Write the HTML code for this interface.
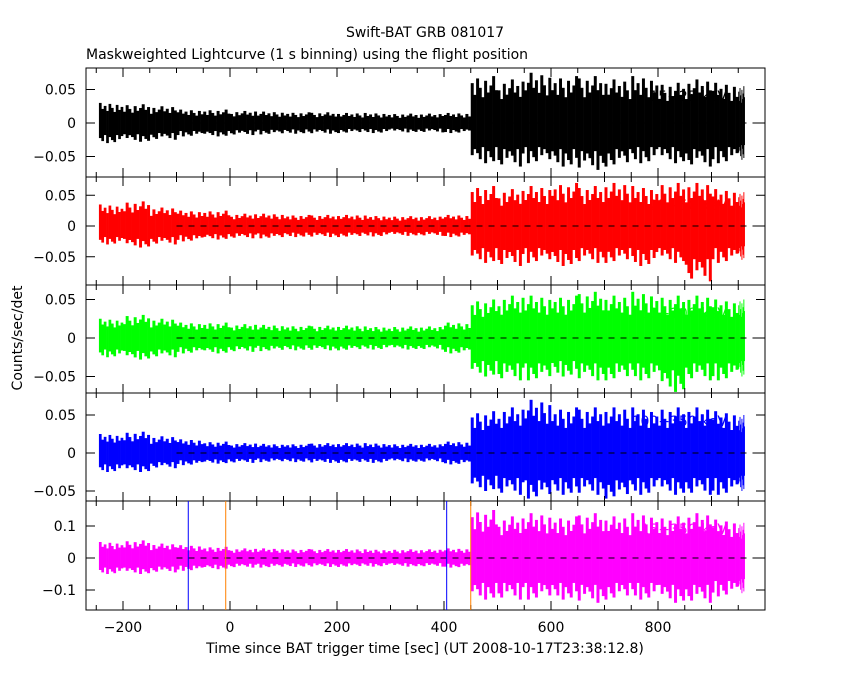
<!DOCTYPE html>
<html><head><meta charset="utf-8"><style>
body{margin:0;background:#fff}
svg{font-family:"DejaVu Sans","Liberation Sans",sans-serif}
</style></head><body>
<svg id="c" width="850" height="680" xmlns="http://www.w3.org/2000/svg">
<rect width="850" height="680" fill="#fff"/>
<text x="425" y="37" text-anchor="middle" font-size="14">Swift-BAT GRB 081017</text>
<text x="86" y="59" font-size="14">Maskweighted Lightcurve (1 s binning) using the flight position</text>
<text x="22" y="338" font-size="14" text-anchor="middle" transform="rotate(-90 22 338)">Counts/sec/det</text>
<text x="425" y="653" font-size="14" text-anchor="middle">Time since BAT trigger time [sec] (UT 2008-10-17T23:38:12.8)</text>
<g id="g"></g>
</svg>
<script>
const bandLabels=["15\u221225 keV","25\u221250 keV","50\u2212100 keV","100\u2212350 keV","15\u2212350 keV"];
const colors=["#000000","#ff0000","#00ff00","#0000ff","#ff00ff"];
const binStarts=[-245,-200,-150,-100,-50,0,50,100,150,200,250,300,350,400,450,500,550,600,650,700,750,800,850,900,950];
const hi1=[0.03,0.028,0.025,0.02,0.02,0.018,0.017,0.016,0.016,0.015,0.015,0.014,0.014,0.015,0.07,0.065,0.075,0.07,0.07,0.065,0.07,0.06,0.065,0.06,0.055];
const lo1=[-0.03,-0.028,-0.025,-0.02,-0.02,-0.018,-0.017,-0.016,-0.016,-0.015,-0.015,-0.014,-0.014,-0.015,-0.06,-0.065,-0.06,-0.065,-0.07,-0.065,-0.06,-0.06,-0.065,-0.06,-0.055];
const hi2=[0.035,0.04,0.03,0.025,0.025,0.02,0.02,0.018,0.018,0.018,0.017,0.016,0.016,0.018,0.065,0.06,0.065,0.07,0.065,0.07,0.065,0.07,0.07,0.06,0.055];
const lo2=[-0.03,-0.035,-0.03,-0.025,-0.022,-0.02,-0.02,-0.018,-0.018,-0.018,-0.017,-0.016,-0.016,-0.018,-0.06,-0.065,-0.06,-0.065,-0.06,-0.06,-0.065,-0.06,-0.09,-0.06,-0.055];
const hi3=[0.025,0.03,0.025,0.02,0.02,0.018,0.017,0.016,0.016,0.016,0.015,0.015,0.015,0.02,0.05,0.055,0.055,0.055,0.06,0.055,0.06,0.055,0.055,0.05,0.05];
const lo3=[-0.025,-0.028,-0.025,-0.02,-0.02,-0.018,-0.017,-0.016,-0.016,-0.016,-0.015,-0.015,-0.015,-0.02,-0.05,-0.055,-0.055,-0.05,-0.055,-0.055,-0.055,-0.07,-0.055,-0.055,-0.05];
const hi4=[0.025,0.028,0.022,0.018,0.015,0.013,0.012,0.012,0.013,0.013,0.013,0.012,0.012,0.015,0.055,0.06,0.07,0.06,0.06,0.06,0.06,0.06,0.06,0.055,0.05];
const lo4=[-0.025,-0.025,-0.02,-0.016,-0.014,-0.013,-0.012,-0.012,-0.013,-0.013,-0.013,-0.012,-0.012,-0.015,-0.05,-0.055,-0.06,-0.055,-0.055,-0.06,-0.055,-0.055,-0.055,-0.055,-0.05];
const hi5=[0.05,0.055,0.045,0.04,0.035,0.03,0.03,0.028,0.028,0.028,0.027,0.027,0.027,0.03,0.15,0.13,0.14,0.13,0.14,0.13,0.14,0.13,0.14,0.12,0.11];
const lo5=[-0.05,-0.05,-0.045,-0.04,-0.035,-0.03,-0.03,-0.028,-0.028,-0.028,-0.027,-0.027,-0.027,-0.03,-0.13,-0.13,-0.13,-0.13,-0.14,-0.13,-0.13,-0.14,-0.14,-0.12,-0.11];
const highs=[hi1,hi2,hi3,hi4,hi5], lows=[lo1,lo2,lo3,lo4,lo5];
const yTicks=[[0.05,0,-0.05],[0.05,0,-0.05],[0.05,0,-0.05],[0.05,0,-0.05],[0.1,0,-0.1]];
const yTickLabels=[["0.05","0","\u22120.05"],["0.05","0","\u22120.05"],["0.05","0","\u22120.05"],["0.05","0","\u22120.05"],["0.1","0","\u22120.1"]];
const xTicks=[-200,0,200,400,600,800];
const xTickLabels=["\u2212200","0","200","400","600","800"];
const markerTimes=[-78,-8,405,450];
const markerColors=["#0000ff","#ff8000","#0000ff","#ff8000"];
const tEnd=962;

const L=86,R=765,X0=230,PX=0.535;
const panels=[{t:68,b:177,z:123,k:670},{t:177,b:285,z:226,k:615},{t:285,b:393,z:338,k:770},{t:393,b:501,z:453,k:760},{t:501,b:610,z:558,k:320}];
const shapeHi=[1,0.7,0.85,0.6,0.95,0.75,0.55,0.9,0.65,0.8];
const shapeLo=[0.75,0.9,0.6,1,0.7,0.85,0.95,0.6,0.8,0.65];
const NS="http://www.w3.org/2000/svg";
const g=document.getElementById('g');
function xs(t){return X0+t*PX;}
function mk(tag,a,p){const e=document.createElementNS(NS,tag);for(const k in a)e.setAttribute(k,a[k]);(p||g).appendChild(e);return e;}
panels.forEach((p,i)=>{
  const ys=v=>Math.max(p.t+1,Math.min(p.b-1,p.z-v*p.k));
  const grp=mk('g',{});
  
  
  for(let j=0;j<binStarts.length;j++){
    const t0=binStarts[j], t1=j+1<binStarts.length?binStarts[j+1]:tEnd;
    const sub=10;
    for(let s=0;s<sub;s++){
      const ta=t0+(t1-t0)*s/sub, tb=t0+(t1-t0)*(s+1)/sub;
      const fh=shapeHi[(s+j*3)%10], fl=shapeLo[(s+j*7)%10];
      const r=mk('rect',{x:xs(ta),y:ys(highs[i][j]*fh),width:xs(tb)-xs(ta)+0.3,height:ys(lows[i][j]*fl)-ys(highs[i][j]*fh),fill:colors[i]},grp);
      
      
    }
  }
  const zl=mk('line',{x1:xs(-100),x2:R,y1:p.z,y2:p.z,stroke:'#000','stroke-width':1,'stroke-dasharray':'6,6'},grp);
  
  
  const fr=mk('rect',{x:L,y:p.t,width:R-L,height:p.b-p.t,fill:'none',stroke:'#000','stroke-width':1},grp);
  
  
  for(let t=-250;t<=1000;t+=50){const x=xs(t);if(x<L||x>R)continue;const big=t%200==0;
    mk('line',{x1:x,x2:x,y1:p.b,y2:p.b-(big?9:5),stroke:'#000'},grp);mk('line',{x1:x,x2:x,y1:p.t,y2:p.t+(big?9:5),stroke:'#000'},grp);}
  yTicks[i].forEach((v,j)=>{
    const y=p.z-v*p.k;
    mk('line',{x1:L,x2:L+9,y1:y,y2:y,stroke:'#000'},grp);mk('line',{x1:R,x2:R-9,y1:y,y2:y,stroke:'#000'},grp);
    const tx=mk('text',{x:L-10,y:y+5,'text-anchor':'end','font-size':14},grp);
    tx.textContent=yTickLabels[i][j];
    
    
  });
  const lb=mk('text',{x:727,y:p.t+33,'text-anchor':'end','font-size':14,fill:colors[i]},grp);
  lb.textContent=bandLabels[i];
  
  
  if(i==4){markerTimes.forEach((t,j)=>{const m=mk('line',{x1:xs(t),x2:xs(t),y1:p.t,y2:p.b,stroke:markerColors[j]},grp);
    
    });}
});
xTicks.forEach((t,j)=>{const tx=mk('text',{x:xs(t),y:632,'text-anchor':'middle','font-size':14});
  tx.textContent=xTickLabels[j];
  
  });
</script>
</body></html>
